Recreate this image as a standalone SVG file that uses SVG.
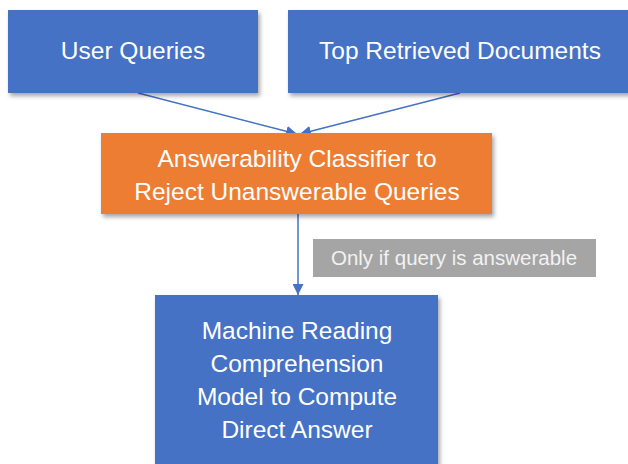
<svg xmlns="http://www.w3.org/2000/svg" width="628" height="464" viewBox="0 0 628 464">
<defs>
<filter id="sh" x="-10%" y="-10%" width="130%" height="140%">
<feDropShadow dx="2" dy="3" stdDeviation="2" flood-color="#000" flood-opacity="0.35"/>
</filter>
<marker id="ah" viewBox="0 0 10 10" refX="10" refY="5" markerWidth="11" markerHeight="11" markerUnits="userSpaceOnUse" orient="auto">
<path d="M0,0 L10,5 L0,10 Z" fill="#4472C4"/>
</marker>
<style>
.blue{fill:#4472C4;}
.orange{fill:#ED7D31;}
.gray{fill:#A5A5A5;}
.t{font-family:"Liberation Sans",Arial,sans-serif;font-size:24.5px;fill:#FFFFFF;text-anchor:middle;}
.s{font-family:"Liberation Sans",Arial,sans-serif;font-size:20.5px;fill:#F2F2F2;text-anchor:middle;}
.c{stroke:#4472C4;stroke-width:1.5;fill:none;marker-end:url(#ah);}
</style>
</defs>
<rect width="628" height="464" fill="#FFFFFF"/>
<g id="connectors">
<line class="c" x1="138" y1="93" x2="297" y2="134"/>
<line class="c" x1="460" y1="93" x2="300" y2="134"/>
<line class="c" x1="298" y1="214" x2="298" y2="295"/>
</g>
<g id="user-queries">
<rect class="blue" x="8" y="10" width="250" height="83" filter="url(#sh)"/>
<text class="t" x="133" y="59">User Queries</text>
</g>
<g id="top-retrieved-documents">
<rect class="blue" x="288" y="10" width="344" height="83" filter="url(#sh)"/>
<text class="t" x="460" y="59">Top Retrieved Documents</text>
</g>
<g id="answerability-classifier">
<rect class="orange" x="101" y="133" width="391" height="81" filter="url(#sh)"/>
<text class="t" x="297" y="167">Answerability Classifier to</text>
<text class="t" x="297" y="200">Reject Unanswerable Queries</text>
</g>
<g id="condition-label">
<rect class="gray" x="313" y="239" width="283" height="38"/>
<text class="s" x="454" y="265">Only if query is answerable</text>
</g>
<g id="machine-reading">
<rect class="blue" x="155" y="295" width="283" height="180" filter="url(#sh)"/>
<text class="t" x="297" y="339">Machine Reading</text>
<text class="t" x="297" y="372">Comprehension</text>
<text class="t" x="297" y="405">Model to Compute</text>
<text class="t" x="297" y="438">Direct Answer</text>
</g>
</svg>
